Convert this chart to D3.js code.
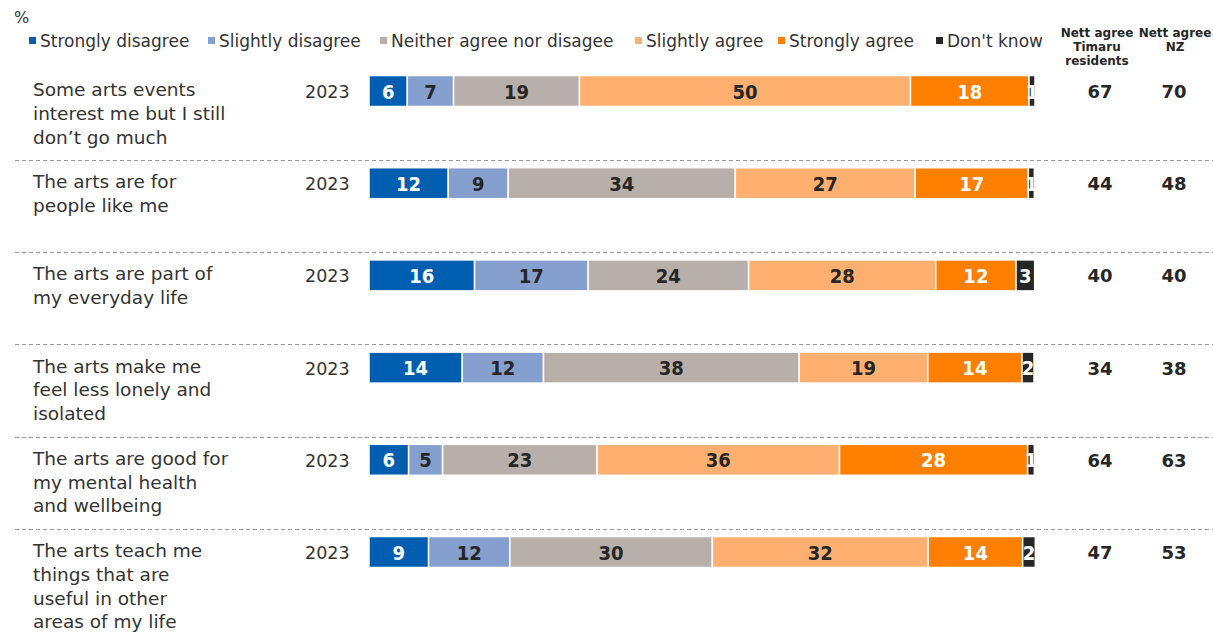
<!DOCTYPE html>
<html><head><meta charset="utf-8">
<script src="https://cdn.jsdelivr.net/npm/d3@7/dist/d3.min.js"></script>
<style>
html,body{margin:0;padding:0;background:#fff;}
svg{display:block;}
</style></head>
<body>
<svg id="chart" width="1213" height="632"></svg>
<script>
const statements = [
  ["Some arts events", "interest me but I still", "don\u2019t go much"],
  ["The arts are for", "people like me"],
  ["The arts are part of", "my everyday life"],
  ["The arts make me", "feel less lonely and", "isolated"],
  ["The arts are good for", "my mental health", "and wellbeing"],
  ["The arts teach me", "things that are", "useful in other", "areas of my life"]
];
const years = ["2023", "2023", "2023", "2023", "2023", "2023"];
const seriesNames = ["Strongly disagree", "Slightly disagree", "Neither agree nor disagee", "Slightly agree", "Strongly agree", "Don't know"];
const stronglyDisagree = [5.75, 11.9, 15.85, 14.0, 5.95, 8.95];
const slightlyDisagree = [6.95, 9.0, 17.05, 12.2, 5.1, 12.2];
const neitherAgree     = [18.9, 34.1, 24.1, 38.4, 23.2, 30.4];
const slightlyAgree    = [49.7, 27.0, 28.1, 19.3, 36.4, 32.4];
const stronglyAgree    = [17.8, 17.0, 12.05, 14.15, 28.25, 14.2];
const dontKnow         = [0.9, 0.9, 2.8, 1.8, 1.0, 1.9];
const nettTimaru = [67, 44, 40, 34, 64, 47];
const nettNZ     = [70, 48, 40, 38, 63, 53];

const colors = ["#005EB0", "#859FCF", "#B8AFAA", "#FFB071", "#FF7F00", "#262626"];
const labelColors = ["#ffffff", "#262626", "#262626", "#262626", "#ffffff", "#ffffff"];
const legendX = [29, 208, 380, 635, 778, 936];

const seriesValues = [stronglyDisagree, slightlyDisagree, neitherAgree, slightlyAgree, stronglyAgree, dontKnow];
const rows = statements.map((s, i) => {
  const o = {i};
  seriesNames.forEach((n, k) => o[n] = seriesValues[k][i]);
  return o;
});
const stacked = d3.stack().keys(seriesNames)(rows);

const svg = d3.select("#chart");
const textFont = "'DejaVu Sans', sans-serif";
const txt = "#333333";

const x = d3.scaleLinear().domain([0, 100]).range([369, 1035]);
const y = d3.scalePoint().domain(d3.range(statements.length)).range([91, 552]);
const bh = 31;
const cy = i => y(i);

// % label
svg.append("text").attr("x", 14).attr("y", 23).attr("font-family", textFont).attr("font-size", 16).attr("fill", txt).text("%");

// legend
const leg = svg.append("g");
seriesNames.forEach((n, k) => {
  leg.append("rect").attr("x", legendX[k]).attr("y", 37).attr("width", 7).attr("height", 7).attr("fill", colors[k]);
  leg.append("text").attr("x", legendX[k] + 11).attr("y", 47).attr("font-family", textFont)
    .attr("font-size", 17).attr("fill", txt).text(n);
});

// nett headers
const hdr = svg.append("g").attr("font-family", textFont).attr("font-weight", "bold").attr("font-size", 12).attr("fill", "#262626").attr("text-anchor", "middle");
[["Nett agree", "Timaru", "residents"]].forEach(lines => lines.forEach((l, j) => hdr.append("text").attr("x", 1097).attr("y", 37 + j * 14).text(l)));
[["Nett agree", "NZ"]].forEach(lines => lines.forEach((l, j) => hdr.append("text").attr("x", 1175).attr("y", 37 + j * 14).text(l)));

// separators
svg.append("g").selectAll("line").data(d3.range(statements.length - 1)).join("line")
  .attr("x1", 15).attr("x2", 1213)
  .attr("y1", i => Math.round(cy(i) + 69) + 0.5).attr("y2", i => Math.round(cy(i) + 69) + 0.5)
  .attr("stroke", "#9a9a9a").attr("stroke-width", 1.2).attr("stroke-dasharray", "4,3");

// statement labels
const lab = svg.append("g").attr("font-family", textFont).attr("font-size", 18.5).attr("fill", txt);
statements.forEach((lines, i) => {
  lines.forEach((l, j) => lab.append("text").attr("x", 33).attr("y", cy(i) + 5 + j * 23.8).text(l));
});
// years
svg.append("g").selectAll("text").data(years).join("text")
  .attr("x", 305).attr("y", (d, i) => cy(i) + 7)
  .attr("font-family", textFont).attr("font-size", 17.5).attr("fill", txt).text(d => d);

// bars
const bars = svg.append("g");
stacked.forEach((layer, k) => {
  bars.selectAll(null).data(layer).join("rect")
    .attr("x", d => x(d[0])).attr("width", d => Math.max(0, x(d[1]) - x(d[0])))
    .attr("y", (d, i) => cy(i) - bh / 2).attr("height", bh)
    .attr("fill", colors[k]).attr("stroke", "#fff").attr("stroke-width", 1.5);
});
stacked.forEach((layer, k) => {
  bars.selectAll(null).data(layer).join("text")
    .attr("x", d => (x(d[0]) + x(d[1])) / 2).attr("y", (d, i) => cy(i) + 7.5)
    .attr("text-anchor", "middle")
    .attr("font-family", "'DejaVu Sans Condensed', 'DejaVu Sans', sans-serif")
    .attr("font-stretch", "condensed")
    .attr("font-weight", "bold").attr("font-size", 20)
    .attr("fill", labelColors[k])
    .text(d => Math.round(d[1] - d[0]));
});

// nett values
const nv = svg.append("g").attr("font-family", textFont).attr("font-weight", "bold").attr("font-size", 18).attr("fill", "#262626").attr("text-anchor", "middle");
nettTimaru.forEach((v, i) => nv.append("text").attr("x", 1100).attr("y", cy(i) + 7).text(v));
nettNZ.forEach((v, i) => nv.append("text").attr("x", 1174).attr("y", cy(i) + 7).text(v));
</script>
</body></html>
